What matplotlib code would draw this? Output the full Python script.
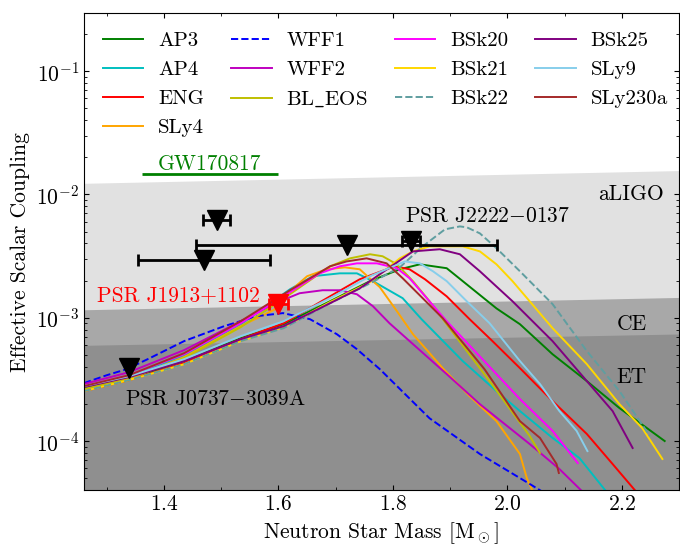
import matplotlib
matplotlib.use("Agg")
import matplotlib.pyplot as plt

plt.rcParams['font.family'] = ['cmr10', 'DejaVu Serif']
plt.rcParams['mathtext.fontset'] = 'cm'
plt.rcParams['axes.formatter.use_mathtext'] = True
plt.rcParams['font.size'] = 15.5

# EOS curves: neutron star mass vs effective scalar coupling
ap3_m = [1.260, 1.339, 1.435, 1.534, 1.609, 1.690, 1.760, 1.812, 1.847, 1.894, 1.922, 1.981, 2.022, 2.079, 2.139, 2.196, 2.275]
ap3_c = [2.69e-4, 3.24e-4, 4.45e-4, 6.82e-4, 8.86e-4, 1.36e-3, 1.98e-3, 2.47e-3, 2.71e-3, 2.52e-3, 1.98e-3, 1.19e-3, 8.86e-4, 5.06e-4, 3.06e-4, 1.85e-4, 1.00e-4]

ap4_m = [1.260, 1.339, 1.435, 1.534, 1.620, 1.660, 1.707, 1.737, 1.765, 1.817, 1.850, 1.922, 1.981, 2.022, 2.079, 2.126, 2.172]
ap4_c = [2.74e-4, 3.36e-4, 4.97e-4, 8.86e-4, 1.70e-3, 2.17e-3, 2.29e-3, 2.29e-3, 1.98e-3, 1.44e-3, 9.73e-4, 4.45e-4, 2.54e-4, 1.75e-4, 1.06e-4, 7.28e-5, 3.94e-5]

eng_m = [1.260, 1.339, 1.435, 1.534, 1.609, 1.690, 1.742, 1.803, 1.829, 1.856, 1.894, 1.934, 1.974, 2.022, 2.079, 2.139, 2.184, 2.224]
eng_c = [2.54e-4, 3.12e-4, 4.28e-4, 6.70e-4, 9.02e-4, 1.49e-3, 2.05e-3, 2.61e-3, 2.47e-3, 2.05e-3, 1.49e-3, 9.73e-4, 6.46e-4, 3.90e-4, 2.11e-4, 1.14e-4, 6.51e-5, 3.94e-5]

sly4_m = [1.260, 1.339, 1.435, 1.534, 1.594, 1.620, 1.650, 1.684, 1.716, 1.742, 1.765, 1.777, 1.807, 1.835, 1.887, 1.934, 1.981, 2.022, 2.034, 2.044]
sly4_c = [2.54e-4, 3.18e-4, 4.79e-4, 8.54e-4, 1.17e-3, 1.64e-3, 2.17e-3, 2.47e-3, 2.56e-3, 2.47e-3, 1.98e-3, 1.77e-3, 1.13e-3, 7.35e-4, 3.90e-4, 2.31e-4, 1.45e-4, 7.85e-5, 5.01e-5, 3.94e-5]

wff1_m = [1.260, 1.300, 1.335, 1.375, 1.435, 1.505, 1.562, 1.608, 1.655, 1.702, 1.737, 1.777, 1.864, 1.952, 2.039, 2.065]
wff1_c = [2.95e-4, 3.42e-4, 3.83e-4, 4.70e-4, 6.46e-4, 8.54e-4, 1.03e-3, 1.09e-3, 9.73e-4, 7.35e-4, 5.56e-4, 3.83e-4, 1.53e-4, 7.85e-5, 4.49e-5, 3.79e-5]

wff2_m = [1.260, 1.339, 1.435, 1.534, 1.594, 1.637, 1.677, 1.707, 1.737, 1.765, 1.794, 1.894, 1.952, 2.039, 2.091, 2.130]
wff2_c = [2.90e-4, 3.62e-4, 5.46e-4, 9.37e-4, 1.31e-3, 1.58e-3, 1.67e-3, 1.67e-3, 1.55e-3, 1.24e-3, 9.02e-4, 3.49e-4, 1.99e-4, 9.46e-5, 5.93e-5, 3.94e-5]

bl_m = [1.260, 1.339, 1.435, 1.534, 1.620, 1.690, 1.725, 1.760, 1.782, 1.807, 1.835, 1.864, 1.899, 1.969, 2.039, 2.057]
bl_c = [2.64e-4, 3.24e-4, 4.70e-4, 8.38e-4, 1.55e-3, 2.61e-3, 3.03e-3, 3.27e-3, 3.15e-3, 2.71e-3, 1.98e-3, 1.36e-3, 8.23e-4, 3.06e-4, 1.10e-4, 8.00e-5]

bsk20_m = [1.260, 1.339, 1.435, 1.534, 1.620, 1.672, 1.707, 1.737, 1.772, 1.807, 1.829, 1.894, 2.022, 2.079, 2.123]
bsk20_c = [2.79e-4, 3.42e-4, 5.06e-4, 9.02e-4, 1.61e-3, 2.29e-3, 2.61e-3, 2.76e-3, 2.76e-3, 2.52e-3, 2.09e-3, 9.37e-4, 2.19e-4, 1.21e-4, 6.63e-5]

bsk21_m = [1.260, 1.339, 1.435, 1.534, 1.609, 1.690, 1.760, 1.812, 1.835, 1.864, 1.922, 1.952, 1.981, 2.009, 2.039, 2.079, 2.139, 2.196, 2.236, 2.271]
bsk21_c = [2.54e-4, 3.12e-4, 4.20e-4, 6.46e-4, 8.38e-4, 1.34e-3, 1.94e-3, 3.03e-3, 3.45e-3, 3.79e-3, 3.79e-3, 3.45e-3, 2.71e-3, 1.98e-3, 1.36e-3, 8.23e-4, 4.20e-4, 1.99e-4, 1.27e-4, 7.15e-5]

bsk22_m = [1.260, 1.339, 1.435, 1.534, 1.609, 1.690, 1.760, 1.812, 1.852, 1.891, 1.917, 1.929, 1.952, 1.981, 2.022, 2.079, 2.139, 2.196, 2.249]
bsk22_c = [2.54e-4, 3.12e-4, 4.20e-4, 6.46e-4, 8.23e-4, 1.31e-3, 1.90e-3, 2.56e-3, 3.79e-3, 5.21e-3, 5.50e-3, 5.41e-3, 4.83e-3, 3.66e-3, 2.38e-3, 1.29e-3, 5.36e-4, 2.54e-4, 1.10e-4]

bsk25_m = [1.260, 1.339, 1.435, 1.534, 1.609, 1.690, 1.742, 1.777, 1.835, 1.882, 1.917, 1.952, 2.009, 2.079, 2.139, 2.184, 2.219]
bsk25_c = [2.74e-4, 3.30e-4, 4.45e-4, 6.70e-4, 8.54e-4, 1.31e-3, 1.73e-3, 2.25e-3, 3.45e-3, 3.59e-3, 3.27e-3, 2.38e-3, 1.36e-3, 6.46e-4, 3.06e-4, 1.75e-4, 8.78e-5]

sly9_m = [1.260, 1.339, 1.435, 1.534, 1.609, 1.690, 1.760, 1.821, 1.847, 1.870, 1.894, 1.929, 1.969, 2.022, 2.057, 2.091, 2.121, 2.140]
sly9_c = [2.79e-4, 3.36e-4, 4.61e-4, 7.09e-4, 9.37e-4, 1.44e-3, 2.17e-3, 2.86e-3, 2.76e-3, 2.38e-3, 1.98e-3, 1.36e-3, 9.02e-4, 4.45e-4, 2.90e-4, 1.75e-4, 1.21e-4, 8.29e-5]

sly230a_m = [1.260, 1.339, 1.435, 1.534, 1.620, 1.690, 1.719, 1.754, 1.789, 1.817, 1.852, 1.887, 1.960, 2.022, 2.057, 2.086, 2.090]
sly230a_c = [2.79e-4, 3.42e-4, 5.16e-4, 9.37e-4, 1.67e-3, 2.61e-3, 2.86e-3, 3.03e-3, 2.76e-3, 2.09e-3, 1.44e-3, 9.91e-4, 3.83e-4, 1.45e-4, 1.06e-4, 6.51e-5, 5.51e-5]

# detector sensitivity band edges at the two x limits
band_x = [1.26, 2.30]
aligo_edge = [1.23e-2, 1.56e-2]
ce_edge = [1.16e-3, 1.46e-3]
et_edge = [5.97e-4, 7.38e-4]

# pulsar bounds (mass, coupling, mass error)
psr_m = [1.492, 1.470, 1.719, 1.831, 1.339]
psr_c = [6.2e-3, 2.92e-3, 3.9e-3, 4.16e-3, 3.9e-4]
psr_err = [0.024, 0.116, 0.263, 0.016, 0.0]
j1913_m, j1913_c, j1913_err = 1.60, 1.30e-3, 0.017

gw_m = [1.361, 1.599]
gw_c = 1.45e-2

fig = plt.figure(figsize=(6.8, 5.47), dpi=100)
ax = fig.add_subplot(111)
fig.subplots_adjust(left=0.1235, right=0.9985, top=0.976, bottom=0.104)

ax.fill_between(band_x, [1e-6, 1e-6], aligo_edge, color='#e1e1e1', lw=0, zorder=0)
ax.fill_between(band_x, [1e-6, 1e-6], ce_edge, color='#a8a8a8', lw=0, zorder=0)
ax.fill_between(band_x, [1e-6, 1e-6], et_edge, color='#8f8f8f', lw=0, zorder=0)

lw = 1.4
ax.plot(ap3_m, ap3_c, color='green', lw=lw, label='AP3')
ax.plot(ap4_m, ap4_c, color='c', lw=lw, label='AP4')
ax.plot(eng_m, eng_c, color='red', lw=lw, label='ENG')
ax.plot(sly4_m, sly4_c, color='orange', lw=lw, label='SLy4')
ax.plot(wff1_m, wff1_c, color='blue', lw=lw, ls='--', label='WFF1')
ax.plot(wff2_m, wff2_c, color='m', lw=lw, label='WFF2')
ax.plot(bl_m, bl_c, color='y', lw=lw, label=r'BL$\_$EOS')
ax.plot(bsk20_m, bsk20_c, color='magenta', lw=lw, label='BSk20')
ax.plot(bsk21_m, bsk21_c, color='gold', lw=lw, label='BSk21')
ax.plot(bsk22_m, bsk22_c, color='cadetblue', lw=lw, ls='--', label='BSk22')
ax.plot(bsk25_m, bsk25_c, color='purple', lw=lw, label='BSk25')
ax.plot(sly9_m, sly9_c, color='skyblue', lw=lw, label='SLy9')
ax.plot(sly230a_m, sly230a_c, color='brown', lw=lw, label='SLy230a')

ax.errorbar(psr_m, psr_c, xerr=psr_err, fmt='v', color='k', ms=14,
            elinewidth=2, capsize=4, capthick=2, zorder=5)
ax.errorbar([j1913_m], [j1913_c], xerr=[j1913_err], fmt='v', color='red', ms=14,
            elinewidth=2, capsize=4, capthick=2, zorder=5)

ax.hlines(gw_c, gw_m[0], gw_m[1], color='green', lw=2)
ax.text(1.480, 1.75e-2, 'GW170817', color='green', ha='center', va='center')
ax.text(1.821, 6.6e-3, r'PSR J2222$-$0137', ha='left', va='center')
ax.text(1.567, 1.52e-3, 'PSR J1913+1102', color='red', ha='right', va='center')
ax.text(1.332, 2.2e-4, r'PSR J0737$-$3039A', ha='left', va='center')
ax.text(2.217, 1.0e-2, 'aLIGO', ha='center', va='center')
ax.text(2.217, 8.9e-4, 'CE', ha='center', va='center')
ax.text(2.217, 3.3e-4, 'ET', ha='center', va='center')

ax.set_yscale('log')
ax.set_xlim(1.26, 2.30)
ax.set_ylim(4e-5, 0.295)
ax.set_xticks([1.4, 1.6, 1.8, 2.0, 2.2])
ax.set_xticks([1.3, 1.5, 1.7, 1.9, 2.1, 2.3], minor=True)
ax.tick_params(which='both', direction='in', top=True, right=True)
ax.set_xlabel(r'Neutron Star Mass [$\mathrm{M}_\odot$]')
ax.set_ylabel('Effective Scalar Coupling')

ax.legend(loc='upper left', ncol=4, frameon=False, fontsize=15,
          handlelength=1.95, handletextpad=0.7, columnspacing=1.3,
          borderaxespad=0.5, labelspacing=0.5)

fig.savefig('out.png', dpi=100)
